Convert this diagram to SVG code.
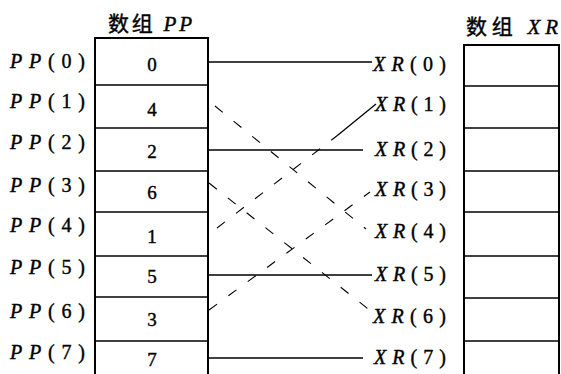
<svg xmlns="http://www.w3.org/2000/svg" width="561" height="374" viewBox="0 0 561 374">
<style>
.box{fill:none;stroke:#000;stroke-width:2}
.div{stroke:#000;stroke-width:1.5}
.t{font-family:'Liberation Serif','DejaVu Serif',serif;font-size:20px;fill:#000;stroke:#000;stroke-width:0.4}
.it{font-style:italic}
.num{font-family:'Liberation Serif','DejaVu Serif',serif;font-size:19px;text-anchor:middle;fill:#000;stroke:#000;stroke-width:0.4}
.ttl{font-family:'Liberation Serif','Noto Sans CJK SC',serif;font-size:21px;fill:#000;stroke:#000;stroke-width:0.4}
.cjk{font-family:'Noto Sans CJK SC',sans-serif}
.solid{stroke:#000;stroke-width:1.3;fill:none}
.dash{stroke:#000;stroke-width:1.1;fill:none;stroke-dasharray:10 14}
</style>
<rect width="561" height="374" fill="#fff"/>

<g id="title-pp"><text class="ttl" x="108" y="31" textLength="84" lengthAdjust="spacing"><tspan class="cjk">数组</tspan> <tspan class="it">PP</tspan></text></g>
<g id="title-xr"><text class="ttl" x="466" y="34" textLength="92" lengthAdjust="spacing"><tspan class="cjk">数组</tspan> <tspan class="it">XR</tspan></text></g>

<g id="pp-array">
  <path class="box" d="M95,375 V38 H208 V375"/>
  <g id="pp0"><text class="t" x="10" y="68" textLength="75" lengthAdjust="spacing"><tspan class="it">PP</tspan>(0)</text><text class="num" x="152" y="71">0</text></g>
  <g id="pp1"><line class="div" x1="95" y1="85" x2="208" y2="85"/><text class="t" x="10" y="108" textLength="75" lengthAdjust="spacing"><tspan class="it">PP</tspan>(1)</text><text class="num" x="152" y="116">4</text></g>
  <g id="pp2"><line class="div" x1="95" y1="128" x2="208" y2="128"/><text class="t" x="10" y="149" textLength="75" lengthAdjust="spacing"><tspan class="it">PP</tspan>(2)</text><text class="num" x="152" y="158">2</text></g>
  <g id="pp3"><line class="div" x1="95" y1="171" x2="208" y2="171"/><text class="t" x="10" y="192" textLength="75" lengthAdjust="spacing"><tspan class="it">PP</tspan>(3)</text><text class="num" x="152" y="199">6</text></g>
  <g id="pp4"><line class="div" x1="95" y1="212" x2="208" y2="212"/><text class="t" x="10" y="232" textLength="75" lengthAdjust="spacing"><tspan class="it">PP</tspan>(4)</text><text class="num" x="152" y="243">1</text></g>
  <g id="pp5"><line class="div" x1="95" y1="256" x2="208" y2="256"/><text class="t" x="10" y="274" textLength="75" lengthAdjust="spacing"><tspan class="it">PP</tspan>(5)</text><text class="num" x="152" y="283">5</text></g>
  <g id="pp6"><line class="div" x1="95" y1="297" x2="208" y2="297"/><text class="t" x="10" y="318" textLength="75" lengthAdjust="spacing"><tspan class="it">PP</tspan>(6)</text><text class="num" x="152" y="326">3</text></g>
  <g id="pp7"><line class="div" x1="95" y1="341" x2="208" y2="341"/><text class="t" x="10" y="359" textLength="75" lengthAdjust="spacing"><tspan class="it">PP</tspan>(7)</text><text class="num" x="152" y="366">7</text></g>
</g>

<g id="xr-labels">
  <g id="xr0"><text class="t" x="373" y="71" textLength="73" lengthAdjust="spacing"><tspan class="it">XR</tspan>(0)</text></g>
  <g id="xr1"><text class="t" x="375" y="111" textLength="71" lengthAdjust="spacing"><tspan class="it">XR</tspan>(1)</text></g>
  <g id="xr2"><text class="t" x="375" y="156" textLength="71" lengthAdjust="spacing"><tspan class="it">XR</tspan>(2)</text></g>
  <g id="xr3"><text class="t" x="375" y="196" textLength="71" lengthAdjust="spacing"><tspan class="it">XR</tspan>(3)</text></g>
  <g id="xr4"><text class="t" x="375" y="238" textLength="71" lengthAdjust="spacing"><tspan class="it">XR</tspan>(4)</text></g>
  <g id="xr5"><text class="t" x="375" y="281" textLength="71" lengthAdjust="spacing"><tspan class="it">XR</tspan>(5)</text></g>
  <g id="xr6"><text class="t" x="373" y="323" textLength="73" lengthAdjust="spacing"><tspan class="it">XR</tspan>(6)</text></g>
  <g id="xr7"><text class="t" x="374" y="364" textLength="72" lengthAdjust="spacing"><tspan class="it">XR</tspan>(7)</text></g>
</g>

<g id="xr-array">
  <path class="box" d="M464,375 V45 H559 V375"/>
  <line class="div" x1="464" y1="86" x2="559" y2="86"/>
  <line class="div" x1="464" y1="128" x2="559" y2="128"/>
  <line class="div" x1="464" y1="171" x2="559" y2="171"/>
  <line class="div" x1="464" y1="212" x2="559" y2="212"/>
  <line class="div" x1="464" y1="256" x2="559" y2="256"/>
  <line class="div" x1="464" y1="298" x2="559" y2="298"/>
  <line class="div" x1="464" y1="341" x2="559" y2="341"/>
</g>

<g id="connectors">
  <line class="solid" x1="208" y1="62" x2="372" y2="62"/>
  <line class="solid" x1="208" y1="150" x2="363" y2="150"/>
  <line class="solid" x1="208" y1="275" x2="372" y2="275"/>
  <line class="solid" x1="208" y1="358" x2="363" y2="358"/>
  <line class="dash" x1="215" y1="106" x2="366" y2="229"/>
  <line class="dash" x1="209" y1="183" x2="372" y2="312"/>
  <line class="dash" x1="217" y1="228" x2="338" y2="135"/>
  <line class="solid" x1="338" y1="135" x2="376" y2="104"/>
  <line class="dash" x1="209" y1="310" x2="370" y2="192"/>
</g>
</svg>
